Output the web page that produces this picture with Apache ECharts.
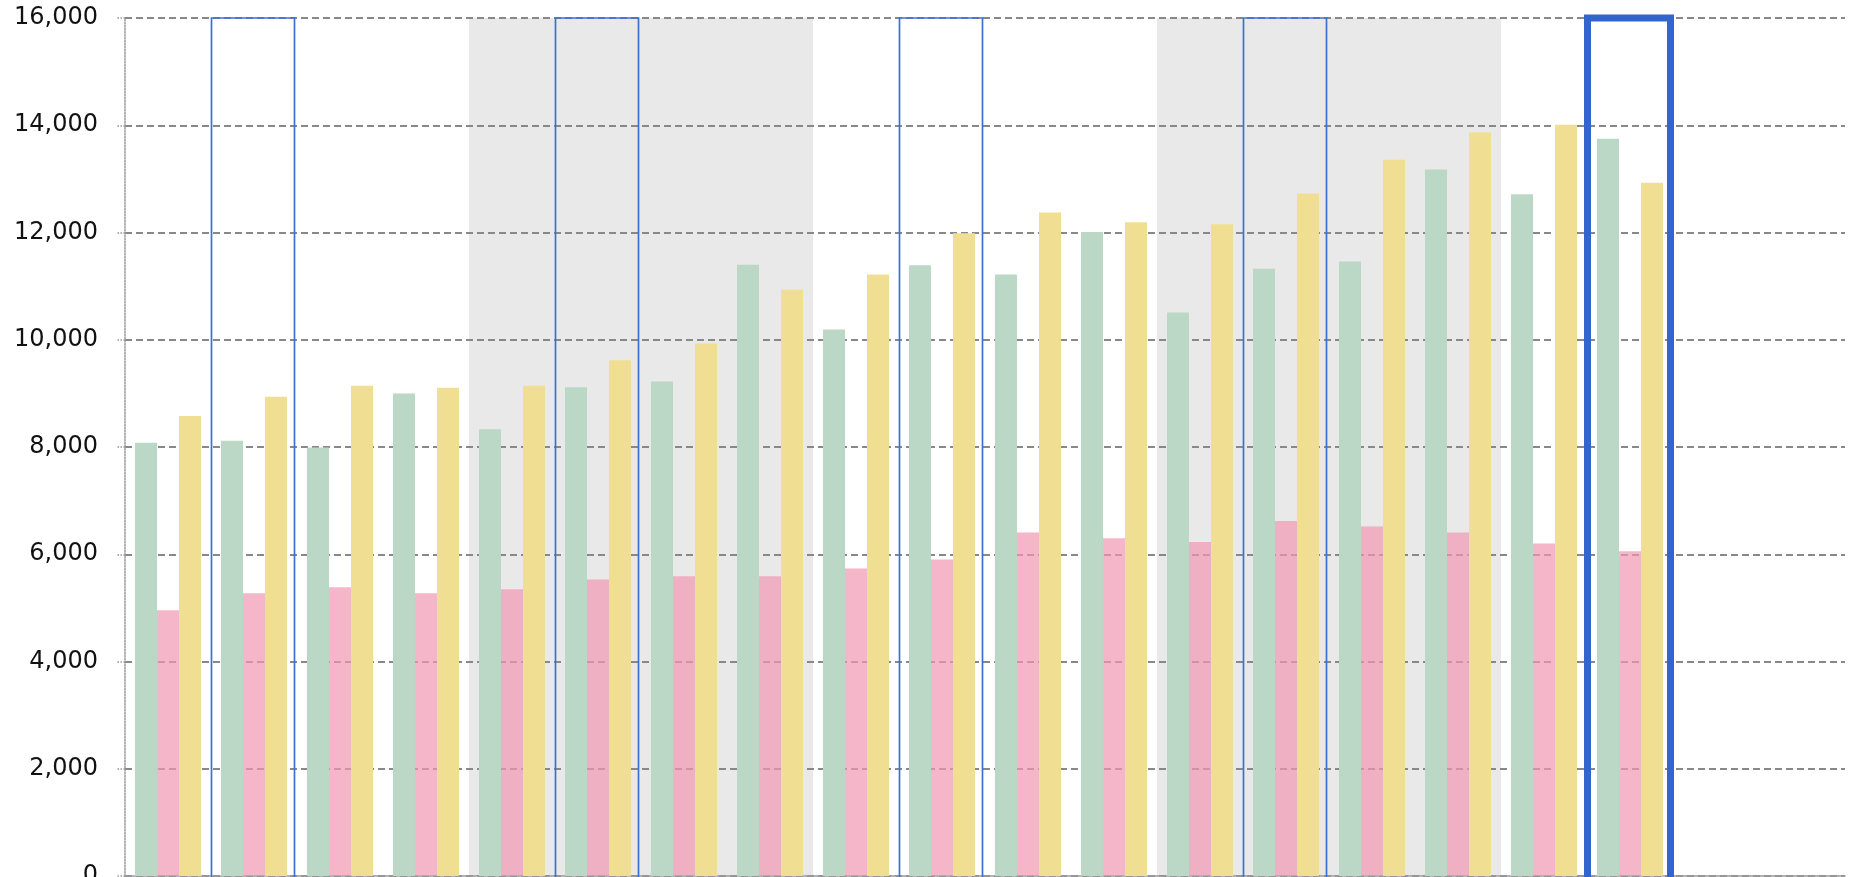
<!DOCTYPE html>
<html>
<head>
<meta charset="utf-8">
<script src="https://cdn.jsdelivr.net/npm/echarts@6/dist/echarts.min.js"></script>
<style>
  html, body { margin: 0; padding: 0; background: #ffffff; }
  #chart { width: 1850px; height: 877px; }
</style>
</head>
<body>
<div id="chart"></div>
<script>
const categories = ['1', '2', '3', '4', '5', '6', '7', '8', '9', '10', '11', '12', '13', '14', '15', '16', '17', '18', '19', '20'];
const greenValues = [8080, 8117, 7990, 9000, 8329, 9114, 9220, 11400, 10192, 11387, 11218, 12011, 10509, 11325, 11461, 13176, 12715, 13748, null, null];
const pinkValues = [4955, 5272, 5384, 5272, 5347, 5528, 5590, 5590, 5733, 5901, 6405, 6299, 6230, 6621, 6517, 6405, 6200, 6056, null, null];
const yellowValues = [8578, 8939, 9144, 9106, 9144, 9618, 9929, 10933, 11218, 11987, 12373, 12192, 12155, 12727, 13356, 13869, 14008, 12927, null, null];
const shadedRanges = [[4, 7], [12, 15]];
const thinBoxes = [1, 5, 9, 13];
const thickBoxes = [17];
const yMin = 0, yMax = 16000, yInterval = 2000;

const chart = echarts.init(document.getElementById('chart'));

function shadeItem(params, api) {
  const s = api.value(0), e = api.value(1);
  const band = api.size([1, 0])[0];
  const a = api.coord([s, yMax]);
  const b = api.coord([e, yMin]);
  return {
    type: 'rect',
    shape: { x: a[0] - band / 2, y: a[1], width: b[0] - a[0] + band, height: b[1] - a[1] },
    style: { fill: '#e9e9e9' }
  };
}
function boxItem(lineWidth, color) {
  return function (params, api) {
    const i = api.value(0);
    const band = api.size([1, 0])[0];
    const top = api.coord([i, yMax]);
    const bot = api.coord([i, yMin]);
    return {
      type: 'rect',
      shape: { x: top[0] - band / 2 + 0.5, y: top[1], width: band - 3, height: bot[1] - top[1] + 30 },
      style: { fill: 'none', stroke: color, lineWidth: lineWidth }
    };
  };
}

chart.setOption({
  animation: false,
  grid: { left: 125, right: 5, top: 18, bottom: 1, containLabel: false, outerBoundsMode: 'none' },
  xAxis: {
    type: 'category',
    data: categories,
    z: 1,
    axisLine: { show: true, lineStyle: { color: '#9a9a9a', width: 1.5 } },
    axisTick: { show: false },
    axisLabel: { show: false },
    splitLine: { show: false }
  },
  yAxis: {
    type: 'value',
    min: yMin, max: yMax, interval: yInterval,
    z: 1,
    axisLine: { show: true, lineStyle: { color: '#999', width: 1.5, type: 'dotted' } },
    axisTick: { show: true, length: 9, lineStyle: { color: '#999', width: 1.5, type: 'dotted' } },
    axisLabel: {
      margin: 27, fontSize: 24, color: '#111', fontFamily: 'DejaVu Sans',
      formatter: v => v.toLocaleString('en-US')
    },
    splitLine: { show: true, lineStyle: { color: '#888', width: 2, type: [7, 4] } }
  },
  series: [
    { type: 'custom', z: 0, data: shadedRanges, encode: { x: 0, y: 1 }, renderItem: shadeItem, silent: true },
    { type: 'bar', name: 'A', data: greenValues, barGap: '0%', barWidth: 22, z: 2,
      itemStyle: { color: '#bad8c5' } },
    { type: 'bar', name: 'B', data: pinkValues, barGap: '0%', barWidth: 22, z: 2,
      itemStyle: { color: 'rgba(239,151,176,0.7)' } },
    { type: 'bar', name: 'C', data: yellowValues, barGap: '0%', barWidth: 22, z: 2,
      itemStyle: { color: '#f0df92' } },
    { type: 'custom', z: 3, data: thinBoxes.map(i => [i, yMax]), encode: { x: 0, y: 1 },
      renderItem: boxItem(1.7, '#3d6fd6'), silent: true, clip: false },
    { type: 'custom', z: 3, data: thickBoxes.map(i => [i, yMax]), encode: { x: 0, y: 1 },
      renderItem: boxItem(7, '#3366cc'), silent: true, clip: false }
  ]
});
</script>
</body>
</html>
